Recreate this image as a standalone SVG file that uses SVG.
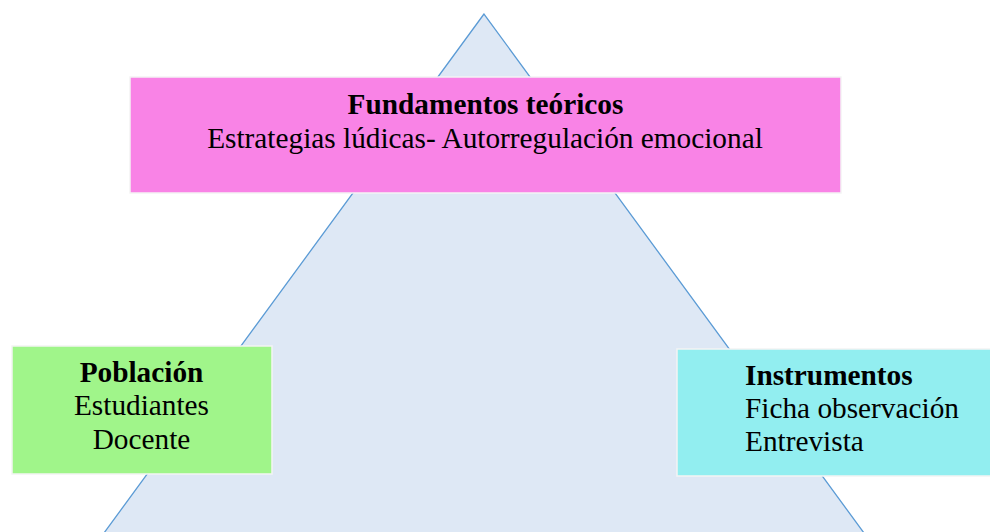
<svg xmlns="http://www.w3.org/2000/svg" width="990" height="532" viewBox="0 0 990 532">
<style>
.t{font-family:"Liberation Serif","Times New Roman",serif;font-size:29.3px;fill:#000}
.b{font-weight:bold}
.box{stroke:#f4f4f4;stroke-width:1.5}
</style>
<rect width="990" height="532" fill="#fff"/>
<g id="triangle">
<polygon points="484,14 104,533 864,533" fill="#dee8f5" stroke="#5b9bd5" stroke-width="1.3"/>
</g>
<g id="connectors"></g>
<g id="fundamentos">
<rect class="box" x="130" y="77" width="711" height="116" fill="#f983e6"/>
<text class="t b" x="485.5" y="114" text-anchor="middle">Fundamentos teóricos</text>
<text class="t" x="485" y="148" text-anchor="middle">Estrategias lúdicas- Autorregulación emocional</text>
</g>
<g id="poblacion">
<rect class="box" x="12" y="346" width="260" height="128" fill="#a0f58a"/>
<text class="t b" x="141.5" y="382" text-anchor="middle">Población</text>
<text class="t" x="141.5" y="415" text-anchor="middle">Estudiantes</text>
<text class="t" x="141.5" y="449" text-anchor="middle">Docente</text>
</g>
<g id="instrumentos">
<rect class="box" x="677" y="349" width="314" height="127" fill="#92eef0"/>
<text class="t b" x="745" y="385">Instrumentos</text>
<text class="t" x="745" y="418">Ficha observación</text>
<text class="t" x="745" y="451">Entrevista</text>
</g>
</svg>
